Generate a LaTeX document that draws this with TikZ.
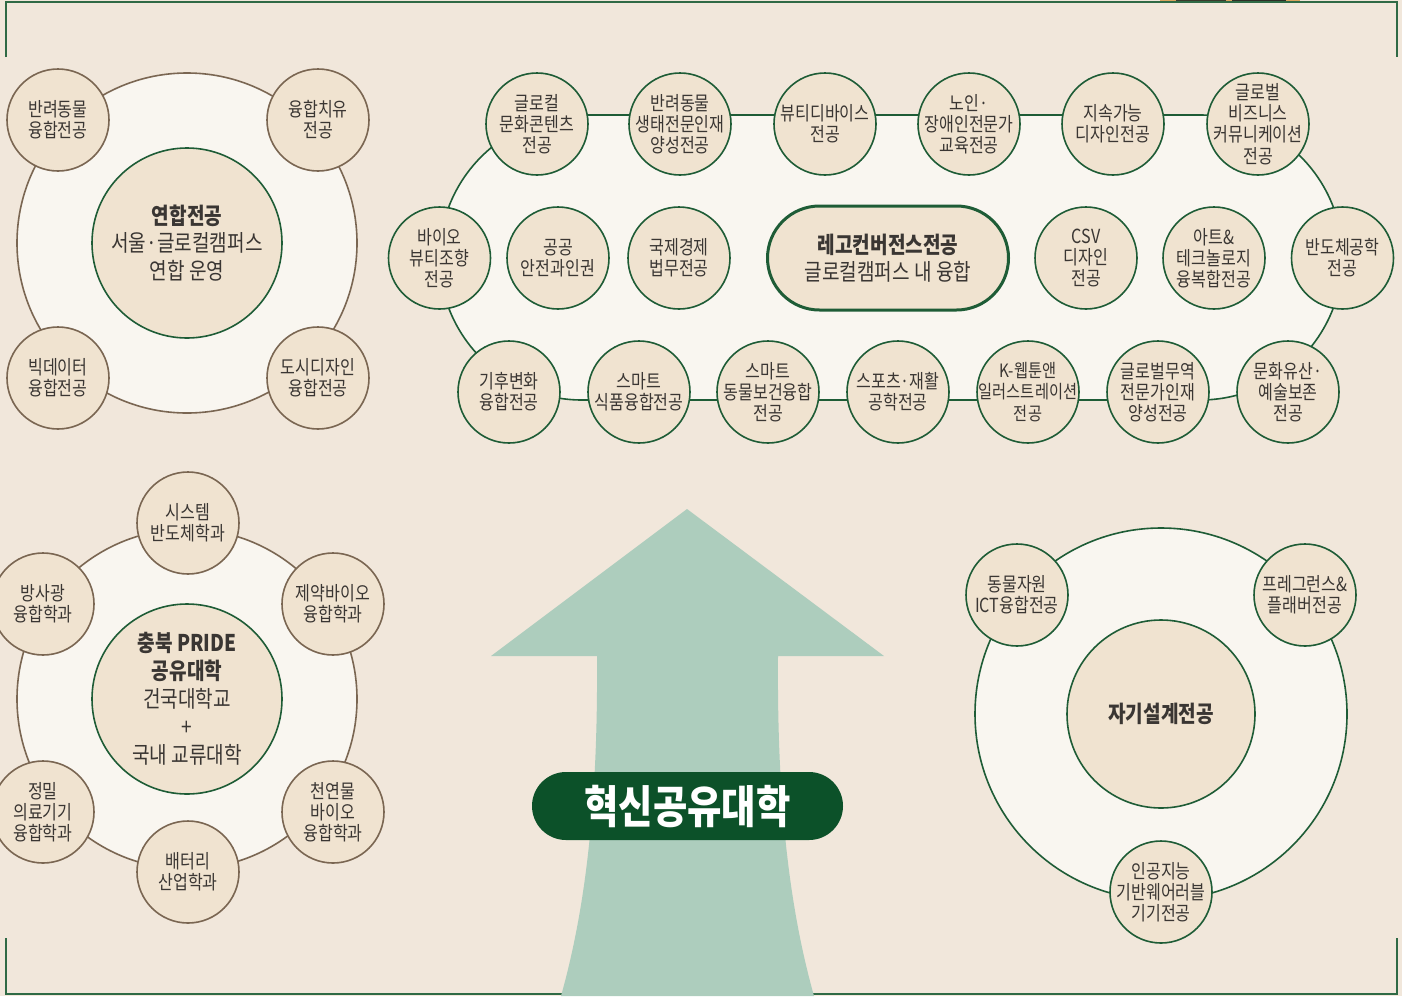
\documentclass[tikz,border=0pt]{standalone}
\usepackage{fontspec}
\setmainfont{Noto Sans CJK KR}[FakeStretch=0.83]
\definecolor{bg}{HTML}{F1E7DB}
\definecolor{ringfill}{HTML}{F9F6F0}
\definecolor{nodefill}{HTML}{F0E3D0}
\definecolor{brownline}{HTML}{7A6652}
\definecolor{greenline}{HTML}{1E5C36}
\definecolor{frameline}{HTML}{2F6A45}
\definecolor{arrowfill}{HTML}{ADCDBD}
\definecolor{pillfill}{HTML}{0C5129}
\definecolor{txt}{HTML}{3A3633}
\definecolor{fragA}{HTML}{D9A45E}
\definecolor{fragB}{HTML}{3B3A2C}
\definecolor{fragC}{HTML}{2E2E26}
\newcommand\fsmall{\fontsize{9.7pt}{10.6pt}\selectfont}
\newcommand\fmid{\fontsize{11.5pt}{13.6pt}\selectfont}
\newcommand\fbig{\fontsize{22.5pt}{24pt}\selectfont}
\tikzset{
  sat/.style={circle, minimum size=51pt, inner sep=0pt, fill=nodefill, draw=brownline, line width=0.8pt, align=center, text=txt, font=\fsmall},
  satg/.style={sat, draw=greenline},
  tight/.style={inner sep=-12pt},
  core/.style={circle, minimum size=95pt, inner sep=0pt, fill=nodefill, draw=greenline, line width=0.8pt, align=center, text=txt, font=\fmid},
  ringb/.style={circle, inner sep=0pt, fill=ringfill, draw=brownline, line width=0.8pt},
  ringg/.style={ringb, draw=greenline},
  frame/.style={draw=frameline, line width=1pt},
}
\begin{document}
\begin{tikzpicture}[x=0.5pt, y=-0.5pt]
\useasboundingbox (0,0) rectangle (1402,996);
\fill[bg] (0,0) rectangle (1402,996);
% image fragment at top
\fill[fragA] (1160,0) rectangle (1300,3);
\fill[fragB] (1176,0) rectangle (1226,3);
\fill[fragC] (1232,0) rectangle (1286,3);
% frame
\coordinate (f1) at (6,57); \coordinate (f2) at (6,2); \coordinate (f3) at (1397,2); \coordinate (f4) at (1397,57);
\coordinate (f5) at (6,938); \coordinate (f6) at (6,994); \coordinate (f7) at (1397,994); \coordinate (f8) at (1397,938);
\draw[frame] (f1) -- (f2) -- (f3) -- (f4);
\draw[frame] (f5) -- (f6) -- (f7) -- (f8);
% arrow
\fill[arrowfill] (687,509) -- (884,656) -- (778,656) .. controls (777,790) and (787,900) .. (814,996)
  -- (561,996) .. controls (588,900) and (598,790) .. (597,656) -- (491,656) -- cycle;
\node[fill=pillfill, rounded corners=17pt, minimum width=155.5pt, minimum height=34pt, inner sep=0pt, text=white, font=\fbig\bfseries] (pill) at (687.5,806) {혁신공유대학};

% ---------- top-left group ----------
\node[ringb, minimum size=170pt] (tlring) at (187,243) {};
\node[sat] (tl1) at (58,120) {반려동물\\융합전공};
\node[sat] (tl2) at (318,120) {융합치유\\전공};
\node[sat] (tl3) at (58,378) {빅데이터\\융합전공};
\node[sat] (tl4) at (318,378) {도시디자인\\융합전공};
\node[core] (tlc) at (187,243) {{\bfseries 연합전공}\\서울·글로컬캠퍼스\\연합 운영};

% ---------- top-right group ----------
\filldraw[fill=ringfill, draw=greenline, line width=0.8pt]
  (582,115) -- (1200,115) arc[start angle=90, end angle=-90, radius=71.25pt]
  -- (582,400) arc[start angle=270, end angle=90, radius=71.25pt] -- cycle;
\node[satg, tight] (t1) at (537,124) {글로컬\\문화콘텐츠\\전공};
\node[satg, tight] (t2) at (680,124) {반려동물\\생태전문인재\\양성전공};
\node[satg] (t3) at (825,124) {뷰티디바이스\\전공};
\node[satg, tight] (t4) at (969,124) {노인·\\장애인전문가\\교육전공};
\node[satg] (t5) at (1113,124) {지속가능\\디자인전공};
\node[satg, tight] (t6) at (1258,124) {글로벌\\비즈니스\\커뮤니케이션\\전공};
\node[satg, tight] (m1) at (439.5,258) {바이오\\뷰티조향\\전공};
\node[satg] (m2) at (558,258) {공공\\안전과인권};
\node[satg] (m3) at (679,258) {국제경제\\법무전공};
\node[rounded corners=26pt, minimum width=120.5pt, minimum height=52pt, inner sep=0pt, fill=nodefill, draw=greenline, line width=1.5pt, align=center, text=txt, font=\fmid] (lego) at (888,258) {{\bfseries 레고컨버전스전공}\\글로컬캠퍼스 내 융합};
\node[satg, tight] (m4) at (1086,258) {CSV\\디자인\\전공};
\node[satg, tight] (m5) at (1214,258) {아트\&\\테크놀로지\\융복합전공};
\node[satg] (m6) at (1342.5,258) {반도체공학\\전공};
\node[satg] (b1) at (509,392) {기후변화\\융합전공};
\node[satg] (b2) at (639,392) {스마트\\식품융합전공};
\node[satg, tight] (b3) at (768,392) {스마트\\동물보건융합\\전공};
\node[satg] (b4) at (898,392) {스포츠·재활\\공학전공};
\node[satg, tight, font=\fontsize{9.2pt}{10.6pt}\selectfont] (b5) at (1028,392) {K-웹툰앤\\일러스트레이션\\전공};
\node[satg, tight] (b6) at (1158,392) {글로벌무역\\전문가인재\\양성전공};
\node[satg, tight] (b7) at (1288,392) {문화유산·\\예술보존\\전공};

% ---------- bottom-left group ----------
\node[ringb, minimum size=170pt] (blring) at (187,699) {};
\node[sat] (bl1) at (188,523) {시스템\\반도체학과};
\node[sat] (bl2) at (43,604) {방사광\\융합학과};
\node[sat] (bl3) at (333,604) {제약바이오\\융합학과};
\node[sat, tight] (bl4) at (43,812) {정밀\\의료기기\\융합학과};
\node[sat, tight] (bl5) at (333,812) {천연물\\바이오\\융합학과};
\node[sat] (bl6) at (188,872) {배터리\\산업학과};
\node[core, font=\fontsize{11.5pt}{14pt}\selectfont] (blc) at (187,699) {{\bfseries 충북 PRIDE}\\{\bfseries 공유대학}\\건국대학교\\+\\국내 교류대학};

% ---------- bottom-right group ----------
\node[ringg, minimum size=186pt] (brring) at (1161,714) {};
\node[core, minimum size=94pt, font=\fmid\bfseries] (brc) at (1161,714) {자기설계전공};
\node[satg] (br1) at (1017,595) {동물자원\\ICT융합전공};
\node[satg] (br2) at (1305,595) {프레그런스\&\\플래버전공};
\node[satg, tight] (br3) at (1161,892) {인공지능\\기반웨어러블\\기기전공};
\end{tikzpicture}
\end{document}
